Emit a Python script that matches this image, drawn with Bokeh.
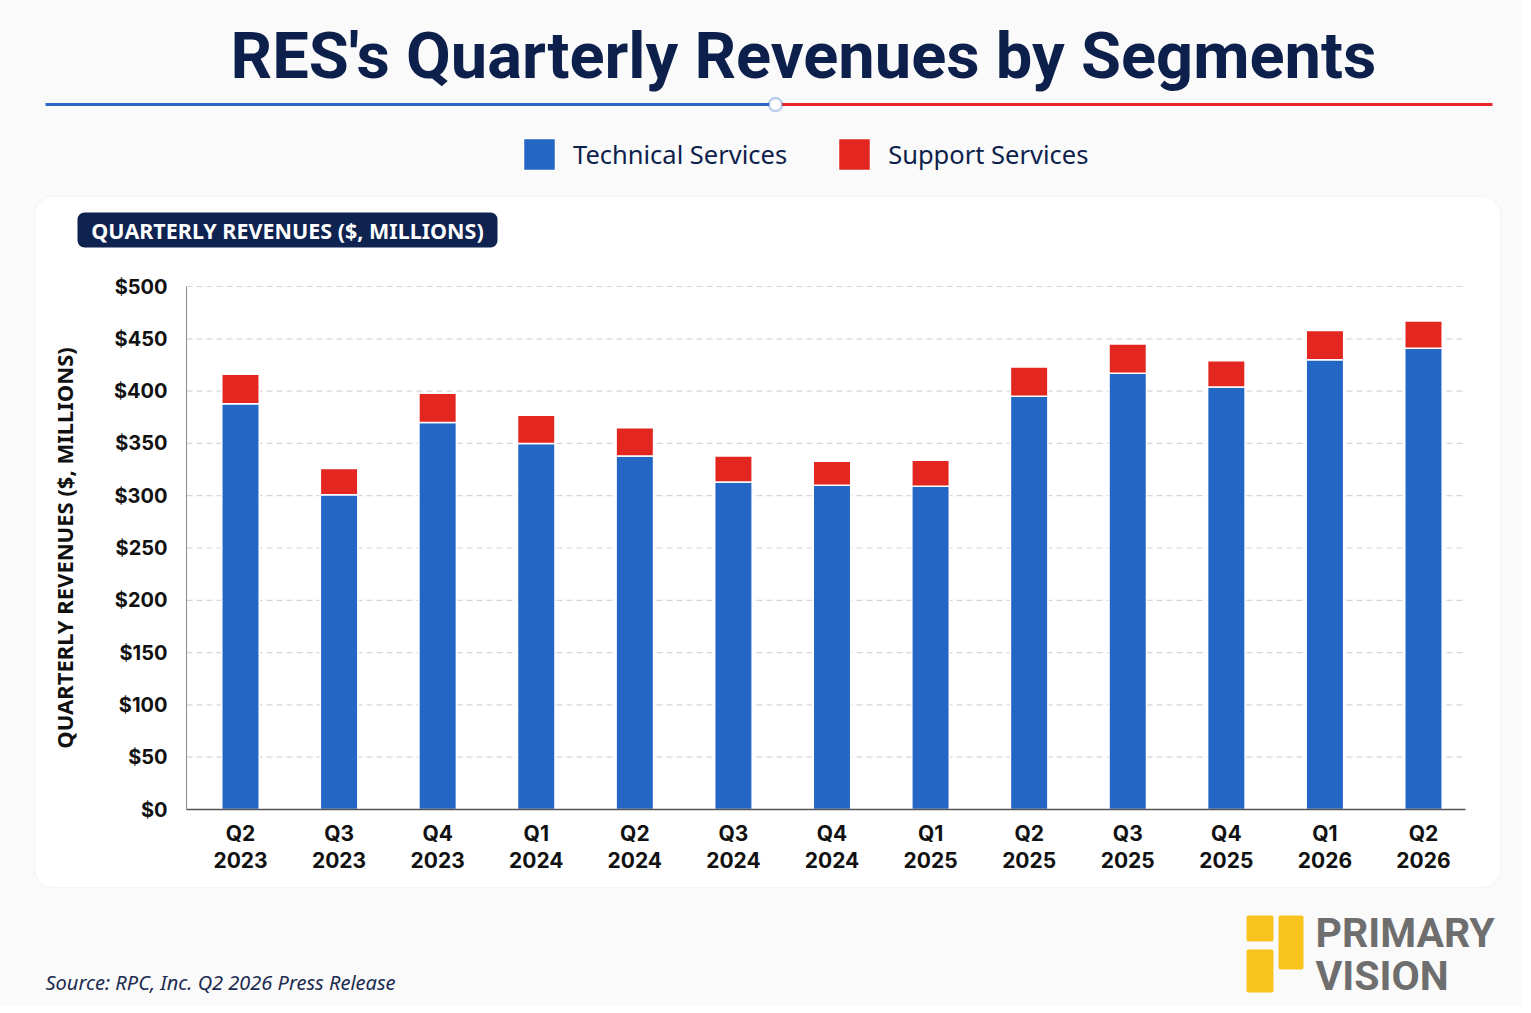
from bokeh.plotting import figure
from bokeh.models import (Range1d, LinearAxis, Legend, LegendItem, Label, BoxAnnotation,
                          FixedTicker, NumeralTickFormatter, ColumnDataSource)
from bokeh.embed import file_html
from bokeh.resources import INLINE

# ---------------- data ----------------
quarters = ["Q2", "Q3", "Q4", "Q1", "Q2", "Q3", "Q4", "Q1", "Q2", "Q3", "Q4", "Q1", "Q2"]
years = ["2023", "2023", "2023", "2024", "2024", "2024", "2024",
         "2025", "2025", "2025", "2025", "2026", "2026"]
technical = [388, 301, 370, 350, 338, 313, 310, 309, 395, 417, 404, 430, 441]
support = [28, 25, 28, 27, 27, 25, 23, 25, 28, 28, 25, 28, 26]
series_names = ["Technical Services", "Support Services"]
y_ticks = [0, 50, 100, 150, 200, 250, 300, 350, 400, 450, 500]

title_text = "RES's Quarterly Revenues by Segments"
badge_text = "QUARTERLY REVENUES ($, MILLIONS)"
source_text = "Source: RPC, Inc. Q2 2026 Press Release"

# ---------------- layout / style ----------------
NAVY = "#0d1f4b"
BLUE = "#2366c4"
RED = "#e3261f"
W, H = 1522, 1006

# plot-area geometry (canvas pixels): first/last bar centre, value 0 / 500 lines
PX_FIRST, PX_LAST, PY_ZERO, PY_TOP = 240, 1423, 809, 286
n = len(quarters)
kx = (PX_LAST - PX_FIRST) / (n - 1)
ky = (PY_ZERO - PY_TOP) / (y_ticks[-1] - y_ticks[0])
xs = -PX_FIRST / kx
ys_top = y_ticks[-1] + PY_TOP / ky

def X(px):
    return xs + px / kx

def Y(py):
    return ys_top - py / ky

p = figure(width=W, height=H, x_range=Range1d(X(0), X(W)), y_range=Range1d(Y(H), Y(0)),
           output_backend="svg", toolbar_location=None, min_border=0,
           x_axis_type=None, y_axis_type=None)
p.background_fill_color = "#fafafb"
p.border_fill_color = "#fafafb"
p.outline_line_color = None
p.xgrid.visible = False
p.ygrid.visible = False

# card
p.add_layout(BoxAnnotation(left=X(34), right=X(1500), top=Y(196), bottom=Y(887),
                           fill_color="white", fill_alpha=1, line_color="#e2e5eb",
                           line_width=1.5, border_radius=18, level="image"))

# grid lines across the plot area
p.segment(x0=[X(186)] * len(y_ticks), x1=[X(1465)] * len(y_ticks), y0=y_ticks, y1=y_ticks,
          line_color="#d6d6d6", line_dash="6 4", line_width=1.2)

idx = list(range(n))
source = ColumnDataSource(dict(idx=idx, technical=technical, support=support))
rs = p.vbar_stack(["technical", "support"], x="idx", width=0.38, source=source,
                  color=[BLUE, RED], line_color="white", line_width=1.5)

# y axis
yax = LinearAxis(fixed_location=X(186), bounds=(y_ticks[0], y_ticks[-1]),
                 ticker=FixedTicker(ticks=y_ticks),
                 formatter=NumeralTickFormatter(format="$0"))
yax.major_label_text_font = "Inter"
yax.major_label_text_font_style = "bold"
yax.major_label_text_font_size = "20px"
yax.major_label_text_color = "#111111"
yax.major_tick_line_color = None
yax.minor_tick_line_color = None
yax.major_tick_out = 0
yax.major_label_standoff = 19
yax.axis_line_color = "#8a8a8a"
yax.axis_label = badge_text
yax.axis_label_text_font = "Noto Sans"
yax.axis_label_text_font_style = "bold"
yax.axis_label_text_font_size = "22px"
yax.axis_label_text_color = "#111111"
yax.axis_label_standoff = 32
p.add_layout(yax, "left")

# x axes (quarter line and year line)
def xaxis(labels, standoff, line_color):
    ax = LinearAxis(fixed_location=y_ticks[0], bounds=(X(186), X(1465)),
                    ticker=FixedTicker(ticks=idx),
                    major_label_overrides={i: lab for i, lab in zip(idx, labels)})
    ax.major_label_text_font = "Inter"
    ax.major_label_text_font_style = "bold"
    ax.major_label_text_font_size = "21px"
    ax.major_label_text_color = "#111111"
    ax.major_tick_line_color = None
    ax.minor_tick_line_color = None
    ax.major_tick_out = 0
    ax.major_tick_in = 0
    ax.major_label_standoff = standoff
    ax.axis_line_color = line_color
    ax.axis_line_width = 1.5
    p.add_layout(ax, "below")

xaxis(quarters, 11, "#555555")
xaxis(years, 42, None)

def text(x, y, s, size, color, font="Noto Sans", style="bold", align="left"):
    p.add_layout(Label(x=X(x), y=Y(y), text=s, text_align=align, text_baseline="middle",
                       text_font=font, text_font_style=style, text_font_size=size,
                       text_color=color))

# title
text(803, 55, title_text, "65px", NAVY, font="Roboto", align="center")

def box(l, r, t, b, color, **kw):
    p.add_layout(BoxAnnotation(left=X(l), right=X(r), top=Y(t), bottom=Y(b),
                               fill_color=color, fill_alpha=1, **kw))

# underline
box(45, 775, 102.5, 105.5, "#2b67c6", line_color=None)
box(775, 1492, 102.5, 105.5, "#e8262a", line_color=None)
box(768.5, 781.5, 97.5, 110.5, "white", line_color="#2b67c6", line_width=2.5, border_radius=7)

# legend (legend glyphs are inset by 10% of the glyph box)
legend = Legend(items=[LegendItem(label=series_names[0], renderers=[rs[0]]),
                       LegendItem(label=series_names[1], renderers=[rs[1]])],
                location=(519, H - 174), orientation="horizontal",
                padding=0, margin=0, spacing=47, label_standoff=14,
                glyph_width=40, glyph_height=40, label_height=40,
                label_text_font="Noto Sans", label_text_font_size="25.5px",
                label_text_color=NAVY, border_line_color=None,
                background_fill_alpha=0)
p.add_layout(legend)

# badge
box(77, 497, 212, 247, "#0e2350", line_color=None, border_radius=7)
text(287, 230, badge_text, "21.5px", "white", align="center")

# source
text(45, 982, source_text, "20px", "#1c2b50", style="italic")

# logo
box(1246, 1273, 915, 941, "#f8c21f", line_color=None, border_radius=2)
box(1246, 1273, 949, 992, "#f8c21f", line_color=None, border_radius=2)
box(1278, 1303, 915, 969, "#f8c21f", line_color=None, border_radius=2)
text(1315, 932, "PRIMARY", "41px", "#6e6e6e", font="Roboto")
text(1315, 975, "VISION", "41px", "#6e6e6e", font="Roboto")

open("out.html", "w").write(file_html(p, INLINE))
